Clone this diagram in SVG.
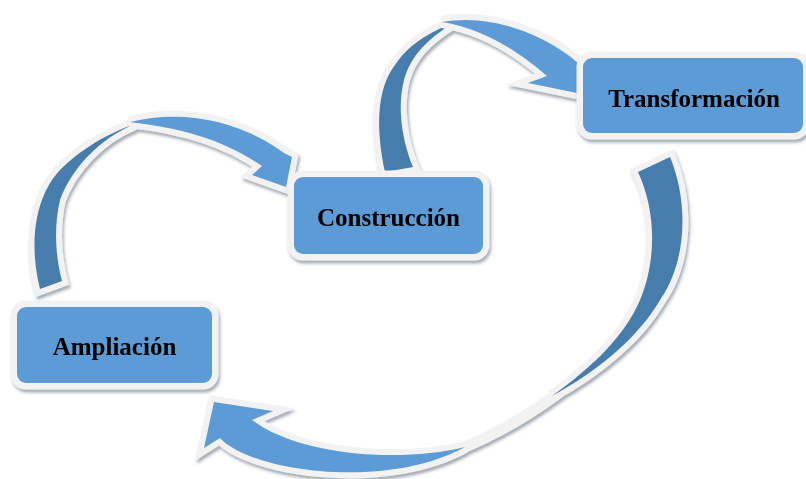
<svg xmlns="http://www.w3.org/2000/svg" width="806" height="479" viewBox="0 0 806 479">
  <defs>
    <filter id="soft-shadow" x="-10%" y="-10%" width="120%" height="130%">
      <feDropShadow dx="1.5" dy="3" stdDeviation="1.6" flood-color="#34455a" flood-opacity="0.45"/>
    </filter>
    <style>
      .box { fill: #5b9bd5; stroke: #f2f2f2; stroke-width: 13; paint-order: stroke; }
      .label { font-family: "Liberation Serif", "Times New Roman", serif; font-weight: bold; font-size: 25px; fill: #000; text-anchor: middle; }
      .back { fill: #477dad; stroke: #f2f2f2; stroke-width: 12; stroke-linejoin: miter; paint-order: stroke; }
      .front { fill: #5b9bd5; stroke: #f2f2f2; stroke-width: 12; stroke-linejoin: miter; paint-order: stroke; }
      .edge { fill: none; stroke: #f2f2f2; stroke-width: 11; }
    </style>
  </defs>

  <rect width="806" height="479" fill="#ffffff"/>

  <!-- curved ribbon arrows: darker back face at the tail, lighter front face with head -->
  <g id="connectors" filter="url(#soft-shadow)">
    <g id="arrow-ampliacion-construccion">
      <path class="back" d="M 40 289 C 30 250, 32 200, 60 170 C 75 155, 100 136, 135 124 C 100 138, 72 168, 60 200 C 54 225, 55 255, 62 281 Z"/>
      <path class="front" d="M 130 122 C 185 109, 240 121, 284 153 L 292 157 L 286 187 L 252 175 L 262 166 C 228 143, 190 129, 130 122 Z"/>
    </g>
    <g id="arrow-construccion-transformacion">
      <path class="back" d="M 385 172 C 376 130, 376 90, 395 65 C 405 50, 420 36, 455 22 C 425 40, 410 58, 404 80 C 397 108, 402 140, 413 167 Z"/>
      <path class="front" d="M 442 22 C 490 13, 545 34, 578 63 L 585 67 L 577 93 L 528 83 L 547 76 C 515 48, 480 28, 442 22 Z"/>
    </g>
    <g id="arrow-transformacion-ampliacion">
      <path class="edge" d="M 458 450 Q 512 428 560 392"/>
      <path class="back" d="M 638 172 L 670 157 C 688 200, 688 260, 660 300 C 640 335, 600 370, 552 396 C 595 365, 625 335, 640 300 C 655 265, 658 215, 638 172 Z"/>
      <path class="front" d="M 465 447 C 400 463, 300 456, 252 420 L 273 411 L 214 402 L 204 448 L 220 438 C 250 471, 385 491, 465 447 Z"/>
    </g>
  </g>

  <g id="node-ampliacion" filter="url(#soft-shadow)">
    <rect class="box" x="17" y="307" width="195" height="76" rx="9"/>
    <text class="label" x="114.5" y="355">Ampliación</text>
  </g>

  <g id="node-construccion" filter="url(#soft-shadow)">
    <rect class="box" x="294" y="177" width="189" height="77" rx="9"/>
    <text class="label" x="388.5" y="226">Construcción</text>
  </g>

  <g id="node-transformacion" filter="url(#soft-shadow)">
    <rect class="box" x="583" y="58" width="220" height="75" rx="9"/>
    <text class="label" x="694" y="107">Transformación</text>
  </g>
</svg>
